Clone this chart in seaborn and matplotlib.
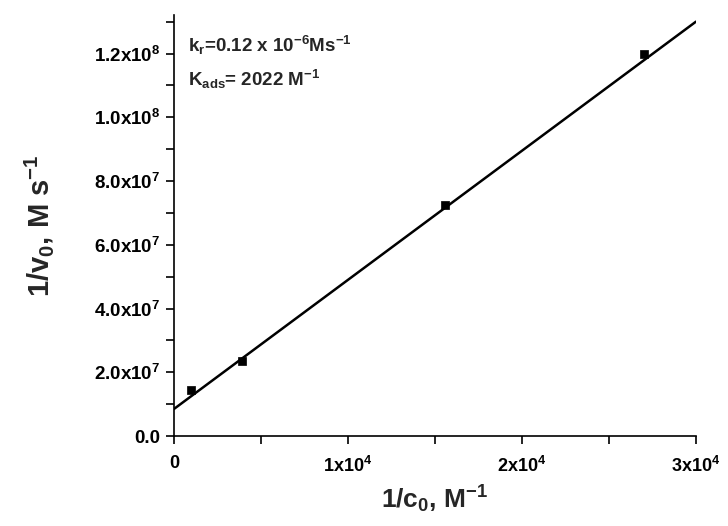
import numpy as np
import pandas as pd
import matplotlib
matplotlib.use("Agg")
import matplotlib.pyplot as plt
from matplotlib.ticker import MultipleLocator, FixedLocator, FixedFormatter
import seaborn as sns

# data
inv_c0 = [1000, 3900, 15600, 27000]
inv_v0 = [1.45e7, 2.35e7, 7.25e7, 1.20e8]
fit_intercept = 8.5e6
fit_slope = 4050.0
fit_x = [0, 30000]

x_ticks = [0, 1e4, 2e4, 3e4]
x_labels = ["0", "1x10$^{4}$", "2x10$^{4}$", "3x10$^{4}$"]
y_ticks = [0, 2e7, 4e7, 6e7, 8e7, 1.0e8, 1.2e8]
y_labels = ["0.0", "2.0x10$^{7}$", "4.0x10$^{7}$", "6.0x10$^{7}$",
            "8.0x10$^{7}$", "1.0x10$^{8}$", "1.2x10$^{8}$"]

sns.set_style("ticks")
plt.rcParams["font.family"] = ["Liberation Sans", "DejaVu Sans"]
plt.rcParams["font.weight"] = "bold"
plt.rcParams["mathtext.fontset"] = "custom"
plt.rcParams["mathtext.rm"] = "Liberation Sans:bold"
plt.rcParams["mathtext.bf"] = "Liberation Sans:bold"
plt.rcParams["mathtext.it"] = "Liberation Sans:bold"
plt.rcParams["mathtext.default"] = "bf"

fig = plt.figure(figsize=(7.28, 5.26), dpi=100)
ax = fig.add_axes([0.239, 0.171, 0.717, 0.80])

df = pd.DataFrame({"x": inv_c0, "y": inv_v0})
fit_df = pd.DataFrame({"x": fit_x, "y": [fit_intercept + fit_slope * v for v in fit_x]})
sns.lineplot(data=fit_df, x="x", y="y", ax=ax, color="black", linewidth=1.8)
sns.scatterplot(data=df, x="x", y="y", ax=ax, marker="s", color="black", s=40, edgecolor="black", zorder=3)

ax.set_xlim(0, 3e4)
ax.set_ylim(0, 1.32e8)
for s in ["top", "right"]:
    ax.spines[s].set_visible(False)
for s in ["left", "bottom"]:
    ax.spines[s].set_linewidth(1.2)
    ax.spines[s].set_color("black")

ax.xaxis.set_major_locator(FixedLocator(x_ticks))
ax.xaxis.set_major_formatter(FixedFormatter(x_labels))
ax.xaxis.set_minor_locator(MultipleLocator(5000))
ax.yaxis.set_major_locator(FixedLocator(y_ticks))
ax.yaxis.set_major_formatter(FixedFormatter(y_labels))
ax.yaxis.set_minor_locator(MultipleLocator(1e7))
ax.tick_params(which="major", direction="out", length=6, width=1.2, colors="black")
ax.tick_params(which="minor", direction="out", length=6, width=1.2, colors="black")
ax.tick_params(axis="y", labelsize=13.5, pad=4)
ax.tick_params(axis="x", labelsize=13, pad=8)
for lab in ax.get_xticklabels() + ax.get_yticklabels():
    lab.set_fontweight("bold")

ax.set_xlabel("1/c$_{0}$, M$^{-1}$", fontsize=19, fontweight="bold", labelpad=6)
ax.set_ylabel("1/v$_{0}$, M s$^{-1}$", fontsize=21, fontweight="bold", labelpad=27)

ax.text(0.026, 0.928, "k$_{r}$=0.12 x 10$^{-6}$Ms$^{-1}$", transform=ax.transAxes,
        fontsize=13.5, fontweight="bold", va="center", ha="left")
ax.text(0.026, 0.848, "K$_{ads}$= 2022 M$^{-1}$", transform=ax.transAxes,
        fontsize=13.5, fontweight="bold", va="center", ha="left")

fig.savefig("out.png", dpi=100)
